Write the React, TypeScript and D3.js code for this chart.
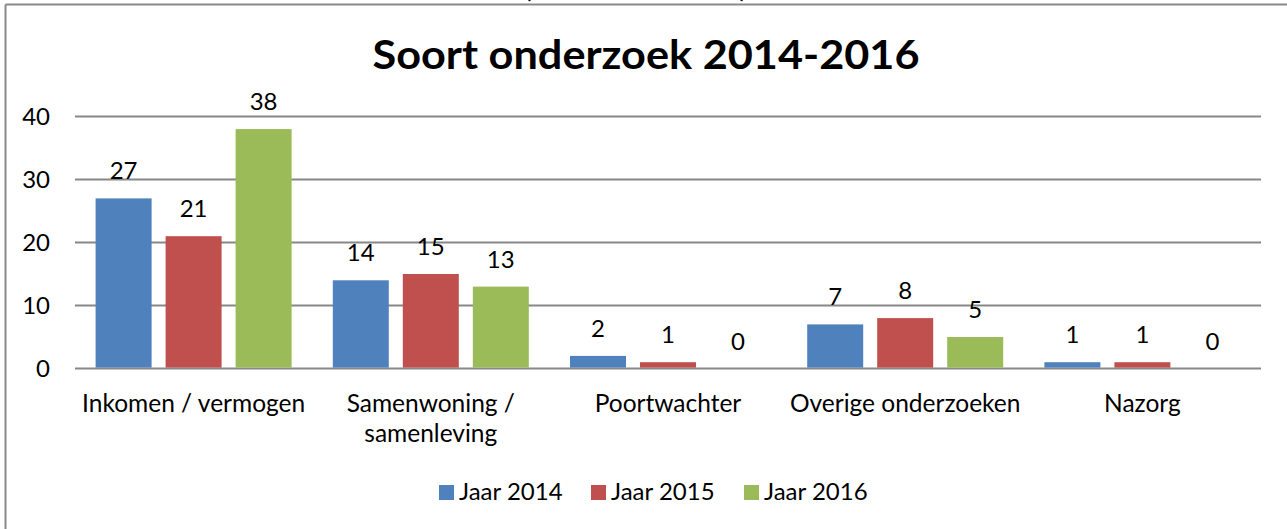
import React from "react";
import * as d3 from "d3";

const categories: string[][] = [
  ["Inkomen / vermogen"],
  ["Samenwoning /", "samenleving"],
  ["Poortwachter"],
  ["Overige onderzoeken"],
  ["Nazorg"],
];
const seriesNames = ["Jaar 2014", "Jaar 2015", "Jaar 2016"];
const jaar2014 = [27, 14, 2, 7, 1];
const jaar2015 = [21, 15, 1, 8, 1];
const jaar2016 = [38, 13, 0, 5, 0];
const seriesColors = ["#4F81BD", "#C0504D", "#9BBB59"];
const yTicks = [0, 10, 20, 30, 40];
const title = "Soort onderzoek 2014-2016";

const W = 1287;
const H = 529;
const FONT = "Lato, Carlito, Calibri, sans-serif";
const FS = 24;

export default function App() {
  const series = [jaar2014, jaar2015, jaar2016];
  const left = 75;
  const right = 1261;
  const top = 116.5;
  const bottom = 368.5;

  const x0 = d3
    .scaleBand<number>()
    .domain(categories.map((_, i) => i))
    .range([left, right])
    .paddingInner(0)
    .paddingOuter(0);
  const bw = x0.bandwidth();
  const groupW = bw * (196 / 237.2);
  const x1 = d3
    .scaleBand<number>()
    .domain(series.map((_, i) => i))
    .range([(bw - groupW) / 2, (bw + groupW) / 2])
    .paddingInner(14 / 70)
    .paddingOuter(0);
  const y = d3.scaleLinear().domain([0, 40]).range([bottom, top]);

  const legendX = [439, 591, 744];

  return (
    <svg
      width={W}
      height={H}
      style={{ position: "absolute", left: 0, top: 0, background: "#fff" }}
    >
      <rect x={0} y={0} width={W} height={H} fill="#fff" />
      {/* cut-off text above the chart (only its lowest edge is visible in the reference) */}
      <text x={522} y={-5} fontFamily={FONT} fontWeight={700} fontSize={40} fill="#000">(</text>
      <text x={738} y={-5} fontFamily={FONT} fontWeight={700} fontSize={40} fill="#000">)</text>
      {/* outer border */}
      <line x1={5.5} y1={4.5} x2={W} y2={4.5} stroke="#898989" strokeWidth={2} />
      <line x1={5.5} y1={4.5} x2={5.5} y2={H} stroke="#898989" strokeWidth={2} />

      <text
        x={646}
        y={69}
        textAnchor="middle"
        fontFamily={FONT}
        fontWeight={700}
        fontSize={40}
        textLength={547}
        lengthAdjust="spacingAndGlyphs"
        fill="#000"
      >
        {title}
      </text>

      {yTicks.map((t) => (
        <g key={t}>
          <line x1={left} x2={right} y1={y(t)} y2={y(t)} stroke="#878787" strokeWidth={1.8} />
          <text
            x={50}
            y={y(t)}
            dy="0.36em"
            textAnchor="end"
            fontFamily={FONT}
            fontSize={FS}
            fill="#000"
          >
            {t}
          </text>
        </g>
      ))}

      {categories.map((cat, ci) => (
        <g key={ci} transform={`translate(${x0(ci)},0)`}>
          {series.map((s, si) => {
            const v = s[ci];
            const bx = x1(si)!;
            return (
              <g key={si}>
                {v > 0 && (
                  <rect
                    x={bx}
                    y={y(v)}
                    width={x1.bandwidth()}
                    height={y(0) - y(v) - 0.9}
                    fill={seriesColors[si]}
                  />
                )}
                <text
                  x={bx + x1.bandwidth() / 2}
                  y={y(v) - 19}
                  textAnchor="middle"
                  fontFamily={FONT}
                  fontSize={FS}
                  fill="#000"
                >
                  {v}
                </text>
              </g>
            );
          })}
          {cat.map((line, li) => (
            <text
              key={li}
              x={bw / 2}
              y={412 + li * 30}
              textAnchor="middle"
              fontFamily={FONT}
              fontSize={FS + 0.5}
              fill="#000"
            >
              {line}
            </text>
          ))}
        </g>
      ))}

      {seriesNames.map((n, i) => (
        <g key={n}>
          <rect x={legendX[i]} y={485} width={15} height={15} fill={seriesColors[i]} />
          <text x={legendX[i] + 20} y={500} fontFamily={FONT} fontSize={FS} fill="#000">
            {n}
          </text>
        </g>
      ))}
    </svg>
  );
}
